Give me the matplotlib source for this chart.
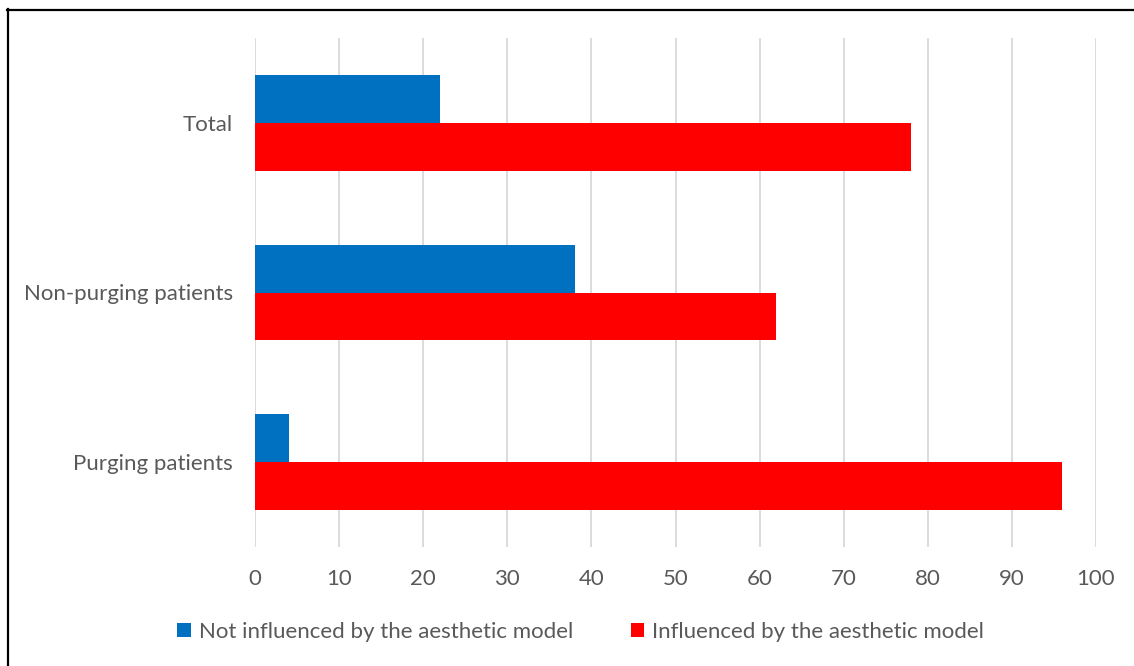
import matplotlib.pyplot as plt
from matplotlib.lines import Line2D
from matplotlib.patches import Patch

# Share of patients (%) by group
categories = ["Purging patients", "Non-purging patients", "Total"]
not_influenced = [4, 38, 22]
influenced = [96, 62, 78]
series_labels = ["Not influenced by the aesthetic model", "Influenced by the aesthetic model"]
x_ticks = [0, 10, 20, 30, 40, 50, 60, 70, 80, 90, 100]

BLUE = "#0070C0"
RED = "#FF0000"
TEXT = "#595959"
GRID = "#D9D9D9"

plt.rcParams["font.family"] = ["Lato", "DejaVu Sans"]

W, H = 1134, 666
fig = plt.figure(figsize=(W / 100, H / 100), dpi=100)
ax = fig.add_axes([255 / W, 1 - 547 / H, (1096 - 255) / W, (547 - 38) / H])

bar_h = 0.282
pos = list(range(len(categories)))
ax.barh([p + bar_h / 2 for p in pos], not_influenced, height=bar_h, color=BLUE, zorder=3)
ax.barh([p - bar_h / 2 for p in pos], influenced, height=bar_h, color=RED, zorder=3)

ax.set_xlim(0, 100)
ax.set_ylim(-0.5, len(categories) - 0.5)
ax.set_xticks(x_ticks)
ax.set_yticks(pos)
ax.set_yticklabels(categories)
ax.xaxis.grid(True, color=GRID, linewidth=1.3, zorder=0)
ax.set_axisbelow(True)
for s in ax.spines.values():
    s.set_visible(False)
ax.tick_params(axis="both", length=0, colors=TEXT, labelsize=16)
ax.tick_params(axis="x", pad=16)
ax.tick_params(axis="y", pad=16)

handles = [Patch(facecolor=BLUE), Patch(facecolor=RED)]
fig.legend(handles, series_labels, loc="center", bbox_to_anchor=(580.5 / W, 1 - 632 / H),
           ncol=2, frameon=False, fontsize=16, labelcolor=TEXT, handlelength=0.6,
           handleheight=0.6, handletextpad=0.35, columnspacing=2.6)

# Frame lines along the top and left edges of the figure
fig.add_artist(Line2D([7 / W, 1], [1 - 9.5 / H, 1 - 9.5 / H], transform=fig.transFigure,
                      color="black", linewidth=1.6))
fig.add_artist(Line2D([8 / W, 8 / W], [0, 1 - 9 / H], transform=fig.transFigure,
                      color="black", linewidth=1.6))

fig.savefig("out.png", dpi=100)
